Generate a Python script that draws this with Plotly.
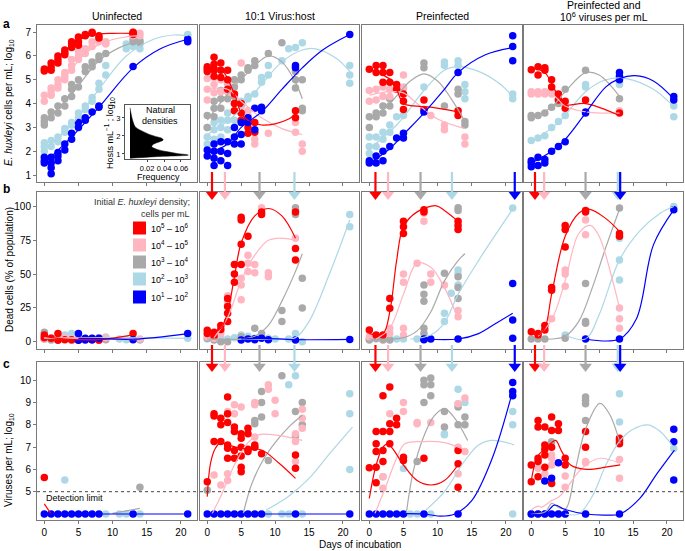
import plotly.graph_objects as go
from plotly.subplots import make_subplots

W, H = 685, 551
FONT = "Liberation Sans, Arial, sans-serif"

series_order = ["lightblue", "gray", "pink", "red", "blue"]
series_colors = {"red": "#FF0000", "pink": "#FFB6C1", "gray": "#A9A9A9",
                 "lightblue": "#ADD8E6", "blue": "#0000FF"}
legend_series = ["red", "pink", "gray", "lightblue", "blue"]
legend_labels = ["10<sup>5</sup> \u2013 10<sup>6</sup>", "10<sup>4</sup> \u2013 10<sup>5</sup>",
                 "10<sup>3</sup> \u2013 10<sup>4</sup>", "10<sup>2</sup> \u2013 10<sup>3</sup>",
                 "10<sup>1</sup> \u2013 10<sup>2</sup>"]
col_titles = ["Uninfected", "10:1 Virus:host", "Preinfected",
              "Preinfected and<br>10<sup>6</sup> viruses per mL"]
day_ticks = [0, 5, 10, 15, 20]
host_ticks = [1, 2, 3, 4, 5, 6, 7]
dead_ticks = [0, 25, 50, 75, 100]
virus_ticks = [5, 6, 7, 8, 9, 10]
detection_limit = 5

# ---------------- Row a: host density (log10 cells/mL) ----------------
pts_a1 = {
    "red": {0: [5.37, 5.45], 1: [5.4, 5.55, 5.7], 2: [5.7, 5.85, 6.0], 3: [6.05, 6.15, 6.25],
            4: [6.35, 6.5, 6.6], 5: [6.45, 6.6, 6.8], 6: [6.85, 6.9], 7: [6.95, 7.0],
            8: [6.75, 6.85], 13: [6.9, 6.95, 7.0]},
    "pink": {0: [4.1, 4.35], 1: [4.35, 4.5, 4.65], 2: [4.65, 4.8, 5.0], 3: [5.0, 5.15, 5.3],
             4: [5.4, 5.6, 5.85], 5: [5.85, 6.0, 6.2], 6: [6.1, 6.3], 7: [6.4, 6.6],
             8: [6.6, 6.7], 9: [6.5, 6.6], 13: [6.85, 7.0], 14: [6.85, 6.95]},
    "gray": {0: [3.1, 3.25, 3.4], 1: [3.4, 3.65], 2: [3.6, 3.9], 3: [3.9, 4.2], 4: [4.3, 4.6, 4.8],
             5: [4.7, 5.0], 6: [5.35, 5.55], 7: [5.55, 5.75], 8: [5.85, 6.0], 9: [6.1],
             13: [6.6, 6.7], 14: [6.55, 6.65]},
    "lightblue": {0: [2.0, 2.2, 2.35], 1: [2.2, 2.45], 2: [2.4, 2.6], 3: [2.8, 2.95], 4: [3.1, 3.2],
                  5: [3.4, 3.6], 6: [3.75, 3.9], 7: [4.1, 4.25], 8: [4.6, 4.85], 9: [5.2, 5.6],
                  12: [6.3, 6.5], 13: [6.4], 14: [6.3, 6.5], 21: [6.85, 6.9]},
    "blue": {0: [1.5, 1.6, 1.75], 1: [1.05, 1.3, 1.5, 1.75], 2: [1.6, 1.8, 1.95], 3: [2.05, 2.3],
             4: [2.5, 2.75], 5: [3.0, 3.2], 6: [3.3, 3.4], 7: [3.65], 8: [3.85, 3.9],
             13: [5.56], 21: [6.6, 6.7]},
}
fit_a1 = {
    "red": [(0, 5.4), (2, 5.9), (4, 6.45), (6, 6.8), (8, 6.93), (10, 6.95), (13, 6.95)],
    "pink": [(0, 4.2), (3, 5.1), (6, 6.1), (9, 6.6), (12, 6.8), (14, 6.85)],
    "gray": [(0, 3.2), (4, 4.4), (8, 5.8), (11, 6.35), (14, 6.65)],
    "lightblue": [(0, 2.1), (4, 3.1), (8, 4.6), (12, 6.0), (16, 6.7), (19, 6.88), (21, 6.85)],
    "blue": [(0, 1.5), (4, 2.6), (8, 3.85), (13, 5.5), (17, 6.3), (21, 6.7)],
}
pts_a2 = {
    "red": {0: [5.35, 5.45, 5.55], 1: [5.15, 5.4, 5.65, 5.95], 2: [5.1, 5.4, 5.7], 3: [4.6, 5.0, 5.4],
            4: [3.7, 4.0, 4.4], 5: [3.3, 3.6, 4.0], 6: [2.75, 3.0, 3.2], 7: [2.8, 3.2], 13: [3.4, 3.7]},
    "pink": {0: [4.15, 4.6, 5.05], 1: [4.45, 4.8, 5.1], 2: [4.5, 5.0], 3: [4.5, 4.9], 4: [4.0, 4.4],
             5: [3.6, 3.9, 5.7], 6: [3.5, 3.7], 7: [2.3, 2.5], 9: [2.75], 13: [2.8, 3.2], 14: [2.0, 2.3]},
    "gray": {0: [3.0, 3.5], 1: [3.45, 3.8, 4.1], 2: [3.8, 4.2, 4.55], 3: [4.2, 4.6, 4.85],
             4: [4.3, 4.7, 5.0], 5: [5.0, 5.2], 6: [5.4, 5.5], 7: [5.6, 5.8], 9: [6.1], 11: [6.55],
             13: [4.65, 5.0, 5.35], 14: [3.7, 3.8, 5.0]},
    "lightblue": {0: [2.3, 2.6, 3.0], 1: [2.5, 2.9, 3.2], 2: [2.6, 3.0, 3.3], 3: [2.9, 3.3, 3.6],
                  4: [3.3, 3.7], 5: [3.9, 4.1], 6: [4.2, 4.3], 7: [4.4], 8: [4.9, 5.1], 9: [5.2, 5.6],
                  11: [5.8], 12: [6.3], 13: [6.35], 14: [6.55], 21: [4.85, 5.2, 5.6]},
    "blue": {0: [1.8, 2.05], 1: [1.4, 1.7, 2.0, 2.3], 2: [1.6, 2.0, 2.4], 3: [1.4, 1.9, 2.4],
             4: [2.3, 2.6, 3.0], 5: [2.3, 2.7, 3.2], 6: [3.2, 3.4], 7: [2.9, 3.8], 8: [3.7, 3.85],
             13: [5.5, 5.6], 21: [6.9]},
}
fit_a2 = {
    "red": [(0, 5.5), (2, 5.45), (4, 4.4), (5, 3.6), (6, 3.3), (8, 3.1), (10, 3.15), (12, 3.35), (13, 3.55)],
    "pink": [(0, 4.6), (3, 4.6), (5, 4.1), (8, 3.4), (11, 2.95), (14, 2.7)],
    "gray": [(0, 3.3), (3, 4.4), (6, 5.3), (9, 6.0), (11, 5.75), (13, 4.9), (14, 4.2)],
    "lightblue": [(0, 2.7), (4, 3.5), (8, 4.8), (11, 5.75), (14, 6.25), (16, 6.3), (19, 5.9), (21, 5.35)],
    "blue": [(0, 1.9), (3, 2.3), (5, 3.0), (8, 3.65), (11, 4.6), (14, 5.5), (17, 6.25), (21, 6.9)],
}
pts_a3 = {
    "red": {0: [5.44], 1: [5.3, 5.6], 2: [4.9, 5.3, 5.6], 3: [4.9, 5.3], 4: [4.6, 4.8],
            5: [3.75, 4.1, 4.4], 8: [3.75, 4.15], 13: [3.5, 3.7]},
    "pink": {0: [4.1, 4.55], 1: [4.15, 4.6], 2: [4.3, 4.7], 3: [4.3, 4.6], 5: [4.7, 5.2], 9: [3.5],
             11: [2.9, 3.1], 14: [2.3, 2.6]},
    "gray": {0: [3.0, 3.45], 1: [3.45, 3.6], 2: [3.6, 3.9], 3: [3.9, 4.2], 5: [4.65], 8: [5.5, 5.7],
             11: [3.9], 13: [4.4, 4.6], 14: [3.1, 3.25]},
    "lightblue": {0: [1.9, 2.2, 2.6], 1: [2.2, 2.6], 2: [2.5, 2.8], 3: [2.8, 3.1], 4: [3.45], 5: [3.5],
                  8: [4.7], 11: [5.6, 5.75], 13: [5.6, 5.8], 14: [4.2, 4.5, 4.8], 21: [4.2, 4.4]},
    "blue": {0: [1.5, 1.6], 1: [1.5, 1.8], 2: [1.6, 2.0], 3: [2.2], 4: [2.55], 5: [2.55, 2.75],
             8: [3.65], 13: [5.3], 21: [5.8, 6.4, 6.85]},
}
fit_a3 = {
    "red": [(0, 5.42), (2, 5.2), (3.5, 4.9), (5, 4.0), (6.5, 3.9), (9, 3.85), (13, 3.65)],
    "pink": [(0, 4.35), (3, 4.5), (5, 4.45), (7, 4.0), (10, 3.35), (14, 2.95)],
    "gray": [(0, 3.3), (3, 4.0), (6, 4.95), (8, 5.25), (10, 4.95), (12, 4.2), (14, 3.25)],
    "lightblue": [(0, 2.1), (4, 3.1), (8, 4.55), (11, 5.4), (13, 5.55), (16, 5.35), (19, 4.85), (21, 4.3)],
    "blue": [(0, 1.5), (3, 2.1), (5, 2.7), (8, 3.6), (11, 4.6), (13, 5.3), (17, 6.05), (21, 6.35)],
}
pts_a4 = {
    "red": {0: [5.42], 1: [5.2, 5.55], 2: [5.4, 5.5], 3: [4.7, 5.0], 4: [4.15, 4.4], 5: [3.8, 4.1],
            8: [4.15], 13: [3.6]},
    "pink": {0: [4.4, 4.5], 1: [4.4, 4.5], 2: [4.4, 4.5], 3: [4.4, 4.5], 4: [4.3], 5: [3.95], 13: [3.7]},
    "gray": {0: [3.4, 3.5], 1: [3.5], 2: [3.6], 3: [3.85], 4: [4.0, 4.15], 5: [4.6], 8: [5.4], 13: [4.2]},
    "lightblue": {0: [2.45], 1: [2.55], 2: [2.65], 3: [3.0], 4: [3.25], 5: [3.5], 8: [4.7, 4.8],
                  13: [4.8, 4.9], 21: [3.45, 3.9]},
    "blue": {0: [1.35, 1.5, 1.6], 1: [1.4, 1.75], 2: [1.5, 1.65], 3: [2.0], 4: [2.2], 5: [2.4],
             8: [3.6, 3.65], 13: [5.0, 5.15, 5.3], 21: [4.15, 4.3]},
}
fit_a4 = {
    "red": [(0, 5.5), (2, 5.3), (4, 4.3), (5, 3.95), (8, 4.0), (13, 3.5)],
    "pink": [(0, 4.5), (3, 4.4), (5, 3.9), (8, 3.65), (13, 3.6)],
    "gray": [(0, 3.4), (3, 3.85), (5, 4.5), (8, 5.3), (10, 5.2), (13, 4.3)],
    "lightblue": [(0, 2.4), (4, 3.2), (8, 4.5), (11, 5.0), (14, 5.05), (18, 4.6), (21, 3.87)],
    "blue": [(0, 1.5), (3, 2.0), (5, 2.5), (8, 3.6), (11, 4.7), (13, 5.05), (15.3, 5.17), (18, 4.95), (21, 4.2)],
}

# ---------------- Row b: dead cells (%) ----------------
pts_b1 = {
    "red": {0: [3, 5], 1: [2.5], 2: [1, 6], 3: [1.5], 4: [1.5], 5: [1.2], 6: [2], 7: [1.5], 8: [1], 13: [6]},
    "pink": {0: [2, 4], 1: [3], 2: [2], 3: [3], 4: [2], 5: [2], 6: [2], 7: [2.5], 8: [3], 9: [3], 13: [2], 14: [2]},
    "gray": {0: [2, 7], 1: [1.2], 2: [3], 3: [2], 4: [1], 5: [2], 6: [2], 7: [1.5], 8: [2], 9: [1.5], 13: [2], 14: [1.5]},
    "lightblue": {0: [2], 1: [2], 2: [3], 3: [5], 4: [6], 5: [3], 6: [2], 7: [2], 8: [3], 9: [3.5],
                  11: [2], 12: [1.5], 13: [2], 14: [1.5], 21: [2.5]},
    "blue": {5: [1, 6], 6: [1.2, 2.5], 7: [1.5, 2.5], 8: [2.5], 13: [1.5], 21: [6]},
}
fit_b1 = {
    "red": [(0, 4), (3, 2), (8, 1.5), (13, 5)],
    "pink": [(0, 3), (7, 2.5), (14, 2)],
    "gray": [(0, 2.5), (7, 2), (14, 1.5)],
    "lightblue": [(0, 2.5), (10, 3), (21, 2.5)],
    "blue": [(5, 2.5), (8, 2.3), (13, 1.8), (21, 6)],
}
pts_b2 = {
    "red": {0: [6, 8.5], 1: [4, 7], 2: [9, 12], 3: [15, 21, 26, 32], 4: [44, 50, 57],
            5: [57, 72, 90, 92], 6: [78], 8: [94, 96], 13: [60.5, 69, 96]},
    "pink": {0: [3.7], 1: [2.5, 5], 2: [6], 3: [27, 30, 34], 5: [31, 42, 47], 6: [52, 58, 64],
             7: [51, 57], 8: [99], 9: [48, 51], 13: [76.5]},
    "gray": {0: [2.5], 1: [1.2], 2: [0], 3: [0], 5: [3.7], 7: [10], 8: [6], 11: [15, 23],
             13: [94, 97, 99], 14: [25, 47]},
    "lightblue": {0: [2], 1: [3], 2: [2.5], 3: [2], 4: [3], 5: [5], 6: [4], 7: [2.5], 9: [2.5],
                  10: [2], 12: [2], 13: [6], 14: [0], 21: [85, 94]},
    "blue": {5: [1.2], 6: [2], 7: [1.5, 2.2], 8: [2.5], 9: [1.5], 13: [1.2], 21: [1.7]},
}
fit_b2 = {
    "red": [(0, 5), (2, 10), (3, 22), (4, 48), (5, 73), (7, 93), (9, 98.5), (11, 93), (13, 76.5)],
    "pink": [(1, 3), (3, 18), (5, 45), (7, 64), (9, 75), (10.4, 76.5), (12, 76), (13, 75)],
    "gray": [(0, 2), (5, 2), (7, 4), (9, 12), (11, 30), (13, 52), (14, 65)],
    "lightblue": [(0, 2), (10, 2), (13, 3), (15, 15), (18, 50), (21, 90)],
    "blue": [(5, 2), (8, 2.5), (13, 1.5), (21, 1.7)],
}
pts_b3 = {
    "red": {0: [8.6], 1: [5], 2: [5], 3: [24.7, 32], 5: [80, 85, 89], 8: [96, 97.5], 13: [83, 86, 89]},
    "pink": {0: [3.7], 3: [6, 10], 5: [5, 10, 44, 50], 7: [58], 8: [89, 95], 9: [44, 50], 11: [42],
             13: [18.5, 23]},
    "gray": {0: [1.2], 1: [2.5], 2: [1.2], 3: [1.2], 8: [6, 10, 30, 35, 42], 11: [50.6],
             13: [32, 40, 48, 97, 99]},
    "lightblue": {0: [2], 1: [2], 2: [2], 3: [2], 4: [2], 5: [2], 7: [2], 8: [2], 11: [15, 21],
                  12: [35.8], 13: [42, 50, 53], 21: [98.8]},
    "blue": {8: [1.5, 2], 9: [2], 13: [2], 21: [2.5, 16, 43]},
}
fit_b3 = {
    "red": [(0, 6), (2, 6), (3, 22), (4, 60), (5, 85), (7, 96), (9.8, 100.5), (11, 97), (13, 89)],
    "pink": [(1, 2), (3, 10), (5, 35), (7, 58), (9, 55), (11, 40), (13, 17)],
    "gray": [(0, 2), (5, 3), (7, 8), (9, 22), (11, 45), (13, 60), (14, 65)],
    "lightblue": [(6, 2), (9, 5), (11, 14), (13, 35), (16, 60), (21, 98)],
    "blue": [(8, 2), (13, 2), (16, 6), (19, 15), (21, 21)],
}
pts_b4 = {
    "red": {0: [7.4], 1: [5, 6], 2: [8.6, 12], 3: [38, 40], 5: [70, 83, 86], 8: [96, 97], 13: [78, 80]},
    "pink": {2: [10], 3: [17], 5: [41, 50, 53], 8: [79, 90], 13: [10, 17, 25]},
    "gray": {0: [2], 1: [2], 2: [2], 5: [2.5], 8: [13.6, 15, 43], 13: [98.8]},
    "lightblue": {5: [5], 13: [45.7, 60.5, 76.5], 21: [100]},
    "blue": {8: [2], 13: [2], 21: [97.5]},
}
fit_b4 = {
    "red": [(0, 7), (1, 5), (2, 10), (3, 35), (5, 78), (7, 95), (8.5, 98), (11, 91), (13, 81.5)],
    "pink": [(1, 4), (3, 16), (5, 45), (7, 80), (8.7, 86), (10, 78), (12, 45), (13, 24.7)],
    "gray": [(0, 2), (3, 2), (5, 4), (7, 15), (9, 40), (11, 70), (13, 98)],
    "lightblue": [(5, 5), (8, 2), (10, 20), (13, 60.5), (16, 82), (19, 95), (21, 100)],
    "blue": [(8, 2), (13, 2), (15.5, 17), (18, 71.6), (21, 97.5)],
}

# ---------------- Row c: viruses (log10 per mL) ----------------
pts_c1 = {
    "red": {0: [5.64]},
    "gray": {14: [5.2]},
    "lightblue": {3: [5.52], 9: [4], 11: [4], 12: [4], 14: [4]},
    "blue": {0: [4], 1: [4], 2: [4], 3: [4], 4: [4], 5: [4], 6: [4], 7: [4], 8: [4], 13: [4], 21: [4]},
}
fit_c1 = {
    "red": [(0, 4.45), (1, 4.0)],
    "gray": [(10, 4.03), (14, 4.25)],
    "blue": [(0, 4), (21, 4)],
}
pts_c2 = {
    "red": {0: [5.45], 1: [7.25, 8.4, 8.5], 2: [7.25, 8.0, 8.3], 3: [6.5, 6.95, 7.1, 8.1, 8.5, 9.25],
            4: [6.5, 6.85, 7.7, 7.9], 5: [5.9, 6.1, 6.6, 7.0, 7.4, 7.6], 6: [6.8, 6.9, 7.6, 7.85],
            7: [7.0, 7.1], 8: [6.7], 13: [6.05, 6.65]},
    "pink": {1: [5.75], 2: [5.3], 3: [5.5, 5.8, 8.5, 8.6], 4: [8.5, 8.9], 5: [8.8],
             7: [7.0, 7.45, 8.9, 9.0], 9: [9.6, 9.8], 10: [8.5, 9.1], 13: [6.35, 7.25, 7.6],
             14: [7.85, 8.3, 8.7]},
    "gray": {0: [5.07], 7: [8.05, 8.2], 8: [8.35, 9.0, 9.5], 9: [6.4], 11: [10.2], 13: [7.5, 8.6],
             14: [8.0, 9.0]},
    "lightblue": {9: [4], 11: [4], 12: [4, 9.8], 13: [10.2], 14: [4], 21: [6.0, 8.5, 9.4]},
    "blue": {0: [4], 1: [4], 2: [4], 3: [4], 4: [4], 5: [4], 6: [4], 7: [4], 8: [4], 13: [4], 21: [4]},
}
fit_c2 = {
    "red": [(0, 4.78), (0.5, 6.3), (1.2, 6.95), (2, 7.2), (3, 7.1), (5, 6.95), (8, 6.87), (10.5, 6.3), (13, 5.6)],
    "pink": [(0.7, 4.0), (2, 4.8), (4, 6.2), (6, 7.2), (7.5, 7.55), (10, 7.55), (14, 7.3)],
    "gray": [(5.3, 4.03), (6.5, 5.3), (8, 6.3), (10, 7.2), (12, 7.9), (14, 8.43)],
    "lightblue": [(8.7, 4.18), (12, 4.8), (15, 5.6), (18, 6.7), (21.4, 7.9)],
    "blue": [(0, 4), (21, 4)],
}
pts_c3 = {
    "red": {0: [6.07], 1: [5.4, 6.1, 6.8, 7.15, 7.7], 2: [6.35, 6.85, 7.7, 9.3], 3: [7.15, 7.7, 8.05, 9.7],
            4: [8.0, 8.3], 5: [6.4, 6.55], 8: [6.5], 13: [5.2, 6.25, 6.85]},
    "pink": {2: [5.15, 5.67], 3: [8.5], 5: [8.6, 9.0], 7: [8.05, 8.1], 9: [8.1], 13: [5.8, 7.0, 8.95],
             14: [6.8, 9.2]},
    "gray": {7: [6.35], 8: [9.0, 9.8, 10.0], 9: [9.3, 9.8, 10.1], 11: [7.9, 8.6], 13: [8.0, 8.8],
             14: [8.0, 8.35]},
    "lightblue": {2: [5.67], 5: [6.04], 6: [4], 7: [4], 9: [4], 11: [7.55, 7.6], 13: [8.95, 9.6],
                  14: [9.0], 21: [4.0, 8.0, 8.6]},
    "blue": {0: [4], 1: [4], 2: [4], 3: [4], 4: [4], 5: [4], 8: [4], 13: [4], 21: [9.3, 9.5, 9.9]},
}
fit_c3 = {
    "red": [(0, 4.7), (1, 6.2), (2, 7.0), (2.7, 7.15), (3.5, 6.9), (5, 6.2), (7, 5.5), (9, 5.3), (11, 5.5), (13.2, 6.3)],
    "pink": [(0.8, 4.0), (2.5, 5.3), (4, 6.5), (5.2, 7.15), (8, 7.25), (11, 7.2), (14.2, 6.85)],
    "gray": [(5.4, 4.0), (6.5, 6.0), (8, 7.5), (9.5, 8.4), (11, 8.73), (12.5, 8.3), (14.4, 7.3)],
    "lightblue": [(8.3, 4.18), (11, 5.0), (14, 6.4), (16, 7.1), (17.8, 7.3), (19.5, 7.25), (21.2, 7.1)],
    "blue": [(0, 4), (8, 4), (10.5, 3.9), (12.5, 4.0), (15, 4.6), (18, 6.5), (20.8, 9.3)],
}
pts_c4 = {
    "red": {0: [5.45, 6.2], 1: [5.67, 6.35, 6.5, 7.9, 8.2], 2: [6.1, 6.65, 6.9, 7.1, 7.9],
            3: [5.37, 7.0, 7.75, 8.35], 4: [7.75, 8.05], 5: [6.2, 6.5], 8: [7.0, 7.7], 13: [7.15, 7.3, 7.4]},
    "pink": {1: [6.05], 2: [5.8], 3: [6.2, 6.5, 6.65], 5: [5.2, 5.7], 8: [6.3, 6.35], 13: [5.6, 6.45]},
    "gray": {0: [4], 1: [4], 2: [4], 3: [7.24], 4: [4], 5: [4], 8: [8.2, 8.95, 9.1, 9.25], 13: [7.2]},
    "lightblue": {0: [4], 5: [4], 8: [4], 13: [8.13, 9.4], 21: [6.94]},
    "blue": {0: [4], 1: [4], 2: [4, 5.48], 3: [4, 5.6], 4: [4, 6.3], 5: [4], 8: [4], 13: [4],
             21: [5.52, 7.24, 7.8]},
}
fit_c4 = {
    "red": [(0, 5.5), (0.9, 6.57), (1.9, 6.9), (3, 7.2), (3.6, 7.3), (4.5, 6.8), (5.8, 6.2), (8.2, 6.0), (11, 6.1), (13.1, 6.2)],
    "pink": [(0, 4.18), (1, 4.35), (1.5, 4.3), (2.1, 4.4), (3, 4.6), (4, 4.75), (5, 5.07), (7, 5.9), (8.5, 6.3), (10.2, 6.5), (13.1, 6.27)],
    "gray": [(0, 4.0), (2.1, 4.1), (3, 4.48), (4, 4.3), (5.1, 4.25), (6.5, 6.0), (8, 7.8), (10.1, 8.96), (11.5, 8.5), (13.1, 7.16)],
    "lightblue": [(5, 4.0), (7, 4.0), (9, 4.8), (11, 6.2), (13.1, 7.3), (15, 7.8), (17.2, 8.0), (19, 7.7), (21.1, 6.94)],
    "blue": [(0, 4.0), (2, 4.0), (3.4, 4.4), (5, 4.2), (8, 4.0), (11, 3.95), (13.1, 4.0), (16, 4.7), (18.5, 5.8), (21.1, 6.87)],
}

# arrows marking collapse onset (series, day) for columns 2-4
arrows_col2 = [("red", 0.7), ("pink", 2.6), ("gray", 7.7), ("lightblue", 12.85)]
arrows_col3 = [("red", 0.9), ("pink", 2.75), ("gray", 7.5), ("lightblue", 12.1), ("blue", 21.3)]
arrows_col4 = [("red", 0.55), ("pink", 1.9), ("gray", 8.0), ("lightblue", 12.75), ("blue", 13.1)]

# inset: natural host densities
natural_hosts = [0.76, 0.85, 0.94, 1.03, 1.13, 1.25, 1.41, 1.55, 1.68, 1.78, 1.88, 1.96,
                 2.1, 2.24, 2.4, 2.52, 2.8, 3.07, 3.3, 3.56]
natural_freq = [0.0, 0.03, 0.0686, 0.055, 0.043, 0.032, 0.0255, 0.028, 0.035, 0.039, 0.037, 0.031,
                0.022, 0.0157, 0.009, 0.006, 0.0035, 0.002, 0.001, 0.0]
inset_ticks = [0.02, 0.04, 0.06]

panels_pts = [[pts_a1, pts_a2, pts_a3, pts_a4], [pts_b1, pts_b2, pts_b3, pts_b4],
              [pts_c1, pts_c2, pts_c3, pts_c4]]
panels_fit = [[fit_a1, fit_a2, fit_a3, fit_a4], [fit_b1, fit_b2, fit_b3, fit_b4],
              [fit_c1, fit_c2, fit_c3, fit_c4]]

# ---------------- layout geometry (pixels) ----------------
col_px = [(37, 197), (200, 359), (362, 522), (524, 683)]
row_px = [(25, 182), (192, 349), (362, 520)]
x_range = [-1.07, 22.36]
y_ranges = [[0.706, 7.30], [-5.4, 110.7], [3.73, 10.82]]
y_tickvals = [host_ticks, dead_ticks, virus_ticks]


def px(x):
    return x / W


def py(y):
    return 1 - y / H


def yval(r, ypix):
    lo, hi = y_ranges[r]
    top, bot = row_px[r]
    return lo + (bot - ypix) / (bot - top) * (hi - lo)


fig = make_subplots(rows=3, cols=4)
FRAME = "#7a7a7a"

for r in range(3):
    for c in range(4):
        idx = r * 4 + c + 1
        xa = "xaxis" if idx == 1 else f"xaxis{idx}"
        ya = "yaxis" if idx == 1 else f"yaxis{idx}"
        fig.layout[xa].update(
            domain=[px(col_px[c][0]), px(col_px[c][1])], range=x_range,
            tickvals=day_ticks, showticklabels=(r == 2), ticks="outside", ticklen=3,
            tickcolor=FRAME, showline=True, linecolor=FRAME, linewidth=1, mirror=True,
            showgrid=False, zeroline=False, tickfont=dict(size=10, color="black", family=FONT))
        fig.layout[ya].update(
            domain=[py(row_px[r][1]), py(row_px[r][0])], range=y_ranges[r],
            tickvals=y_tickvals[r], showticklabels=(c == 0), ticks="outside" if c == 0 else "",
            ticklen=3, tickcolor=FRAME, showline=True, linecolor=FRAME, linewidth=1, mirror=True,
            showgrid=False, zeroline=False, tickfont=dict(size=10, color="black", family=FONT))
        pts = panels_pts[r][c]
        fits = panels_fit[r][c]
        for s in series_order:
            col = series_colors[s]
            if s in pts:
                xs, ys = [], []
                for d, vals in pts[s].items():
                    xs += [d] * len(vals)
                    ys += vals
                fig.add_trace(go.Scatter(x=xs, y=ys, mode="markers",
                                         marker=dict(size=7.5, color=col, line=dict(width=0)),
                                         showlegend=False, hoverinfo="skip"), row=r + 1, col=c + 1)
        for s in series_order:
            if s in fits:
                fx = [p[0] for p in fits[s]]
                fy = [p[1] for p in fits[s]]
                fig.add_trace(go.Scatter(x=fx, y=fy, mode="lines",
                                         line=dict(color=series_colors[s], width=1.2, shape="spline", smoothing=1.0),
                                         showlegend=False, hoverinfo="skip"), row=r + 1, col=c + 1)
        if r == 2:
            fig.add_shape(type="line", xref=f"x{idx} domain", yref=f"y{idx}", x0=0, x1=1,
                          y0=detection_limit, y1=detection_limit,
                          line=dict(color="#444", width=1, dash="dot"))

# arrows: shafts as shapes, heads as triangle markers
for c, arrs in [(1, arrows_col2), (2, arrows_col3), (3, arrows_col4)]:
    for r, tail, neck, headc in [(1, 172, 192, 194.5), (2, 345, 364, 366.5)]:
        idx = r * 4 + c + 1
        for s, d in arrs:
            fig.add_shape(type="line", xref=f"x{idx}", yref="paper", x0=d, x1=d,
                          y0=py(tail), y1=py(neck), line=dict(color=series_colors[s], width=2.2))
        fig.add_trace(go.Scatter(x=[d for _, d in arrs], y=[yval(r, headc)] * len(arrs),
                                 mode="markers", cliponaxis=False,
                                 marker=dict(symbol="triangle-down", size=11,
                                             color=[series_colors[s] for s, _ in arrs], line=dict(width=0)),
                                 showlegend=False, hoverinfo="skip"), row=r + 1, col=c + 1)

# inset
fig.add_trace(go.Scatter(x=natural_freq, y=natural_hosts, mode="lines", fill="tozerox",
                         fillcolor="black", line=dict(color="black", width=0.5, shape="spline"),
                         xaxis="x13", yaxis="y13", showlegend=False, hoverinfo="skip"))
fig.update_layout(
    xaxis13=dict(domain=[px(125), px(190)], range=[-0.0059, 0.0706], anchor="y13",
                 tickvals=inset_ticks, ticktext=["0.02", "0.04", "0.06"], ticks="outside", tickangle=0,
                 ticklen=2, showline=True, linecolor="#555", mirror=True, showgrid=False, zeroline=False,
                 tickfont=dict(size=7.5, family=FONT, color="black")),
    yaxis13=dict(domain=[py(159), py(105)], range=[0.72, 3.72], anchor="x13",
                 tickvals=[1, 2, 3], ticks="outside", ticklen=2, showline=True, linecolor="#555",
                 mirror=True, showgrid=False, zeroline=False,
                 tickfont=dict(size=7.5, family=FONT, color="black")),
)

ann = []
# column titles
title_lines = [(col_titles[0], 0, 16), (col_titles[1], 1, 16), (col_titles[2], 2, 16),
               (col_titles[3].split("<br>")[0], 3, 5), (col_titles[3].split("<br>")[1], 3, 16.5)]
for t, c, yy in title_lines:
    cx = (col_px[c][0] + col_px[c][1]) / 2
    ann.append(dict(x=px(cx), y=py(yy), xref="paper", yref="paper", text=t, showarrow=False,
                    xanchor="center", yanchor="middle", font=dict(size=10.5, family=FONT, color="black")))
# panel letters
for letter, yy in [("a", 24), ("b", 189), ("c", 364)]:
    ann.append(dict(x=px(1), y=py(yy), xref="paper", yref="paper", text=f"<b>{letter}</b>",
                    showarrow=False, xanchor="left", yanchor="middle",
                    font=dict(size=12, family=FONT, color="black")))
# y titles
ytitles = [("<i>E. huxleyi</i> cells per mL; log<sub>10</sub>", 103),
           ("Dead cells (% of population)", 270),
           ("Viruses per mL; log<sub>10</sub>", 460)]
for t, yy in ytitles:
    ann.append(dict(x=px(9), y=py(yy), xref="paper", yref="paper", text=t, textangle=-90,
                    showarrow=False, xanchor="center", yanchor="middle",
                    font=dict(size=10, family=FONT, color="black")))
ann.append(dict(x=px(360), y=py(544), xref="paper", yref="paper", text="Days of incubation",
                showarrow=False, xanchor="center", yanchor="middle",
                font=dict(size=10, family=FONT, color="black")))
ann.append(dict(x=px(44), y=py(498), xref="paper", yref="paper", text="Detection limit",
                showarrow=False, xanchor="left", yanchor="middle",
                font=dict(size=9, family=FONT, color="black")))
# inset texts
ann.append(dict(x=px(160), y=py(110), xref="paper", yref="paper", text="Natural",
                showarrow=False, xanchor="center", yanchor="middle", font=dict(size=9, family=FONT, color="black")))
ann.append(dict(x=px(160), y=py(121), xref="paper", yref="paper", text="densities",
                showarrow=False, xanchor="center", yanchor="middle", font=dict(size=9, family=FONT, color="black")))
ann.append(dict(x=px(158), y=py(177.5), xref="paper", yref="paper", text="Frequency",
                showarrow=False, xanchor="center", yanchor="middle", font=dict(size=9, family=FONT, color="black")))
ann.append(dict(x=px(109), y=py(133), xref="paper", yref="paper",
                text="Hosts mL<sup>\u22121</sup> ; log<sub>10</sub>", textangle=-90,
                showarrow=False, xanchor="center", yanchor="middle", font=dict(size=9, family=FONT, color="black")))
# legend
ann.append(dict(x=px(192), y=py(202), xref="paper", yref="paper",
                text="Initial <i>E. huxleyi</i> density;", showarrow=False, xanchor="right", yanchor="middle",
                font=dict(size=9, family=FONT, color="#333")))
ann.append(dict(x=px(192), y=py(214), xref="paper", yref="paper", text="cells per mL",
                showarrow=False, xanchor="right", yanchor="middle", font=dict(size=9, family=FONT, color="#333")))
leg_y = [228, 245, 262, 279, 297]
for s, lab, yy in zip(legend_series, legend_labels, leg_y):
    fig.add_shape(type="rect", xref="paper", yref="paper", x0=px(133), x1=px(146),
                  y0=py(yy + 6.5), y1=py(yy - 6.5), fillcolor=series_colors[s], line=dict(width=0))
    ann.append(dict(x=px(149), y=py(yy), xref="paper", yref="paper", text=lab, showarrow=False,
                    xanchor="left", yanchor="middle", font=dict(size=9, family=FONT, color="black")))

fig.update_layout(width=W, height=H, margin=dict(l=0, r=0, t=0, b=0),
                  paper_bgcolor="white", plot_bgcolor="white", annotations=ann,
                  font=dict(family=FONT, size=10, color="black"))
fig.write_html("out.html", config={"displayModeBar": False},
               post_script="document.body.style.margin='0px';document.body.style.padding='0px';")
